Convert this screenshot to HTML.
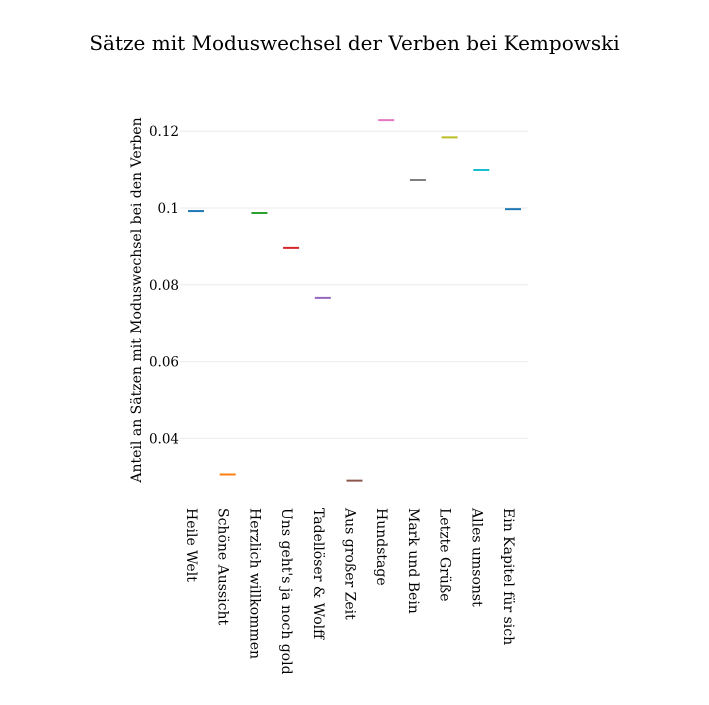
<!DOCTYPE html>
<html><head><meta charset="utf-8"><style>
body{margin:0;background:#fff;}
svg text{font-family:"DejaVu Serif","Liberation Serif",serif;fill:#000;}
</style></head><body>
<svg width="709" height="700">
<text x="354.5" y="50" text-anchor="middle" font-size="20">Sätze mit Moduswechsel der Verben bei Kempowski</text>
<g id="grid"></g>
<g id="yticks"></g>
<g id="xticks"></g>
<g id="marks"></g>
<text transform="translate(141,300) rotate(-90)" text-anchor="middle" font-size="14">Anteil an Sätzen mit Moduswechsel bei den Verben</text>
</svg>
<script>
const categories=["Heile Welt","Schöne Aussicht","Herzlich willkommen","Uns geht's ja noch gold","Tadellöser & Wolff","Aus großer Zeit","Hundstage","Mark und Bein","Letzte Grüße","Alles umsonst","Ein Kapitel für sich"];
const values=[0.0992,0.0306,0.0987,0.0896,0.0766,0.029,0.1229,0.1073,0.1184,0.1099,0.0997];
const yTicks=[0.04,0.06,0.08,0.1,0.12];
const yTickLabels=["0.04","0.06","0.08","0.1","0.12"];
const colors=["#1f77b4","#ff7f0e","#2ca02c","#d62728","#9467bd","#8c564b","#e377c2","#7f7f7f","#bcbd22","#17becf","#1f77b4"];
const NS="http://www.w3.org/2000/svg";
function y(v){return 208-(v-0.1)*3840;}
function x(i){return 196+i*31.7;}
function mk(t,a,p){const e=document.createElementNS(NS,t);for(const k in a)e.setAttribute(k,a[k]);document.getElementById(p).appendChild(e);return e;}
yTicks.forEach((t,i)=>{
 const g=mk('line',{x1:180,x2:528,y1:y(t),y2:y(t),stroke:'#ebebeb','stroke-width':1},'grid');
 
 
 const tx=mk('text',{x:179,y:y(t)+5,'text-anchor':'end','font-size':13.5},'yticks');
 tx.textContent=yTickLabels[i];
 
 
});
categories.forEach((c,i)=>{
 const tx=mk('text',{transform:`translate(${x(i)-9},508) rotate(90)`,'font-size':14},'xticks');
 tx.textContent=c;
 
 
 const m=mk('line',{x1:x(i)-8,x2:x(i)+8,y1:y(values[i]),y2:y(values[i]),stroke:colors[i],'stroke-width':2},'marks');
 
 
});
</script>
</body></html>
